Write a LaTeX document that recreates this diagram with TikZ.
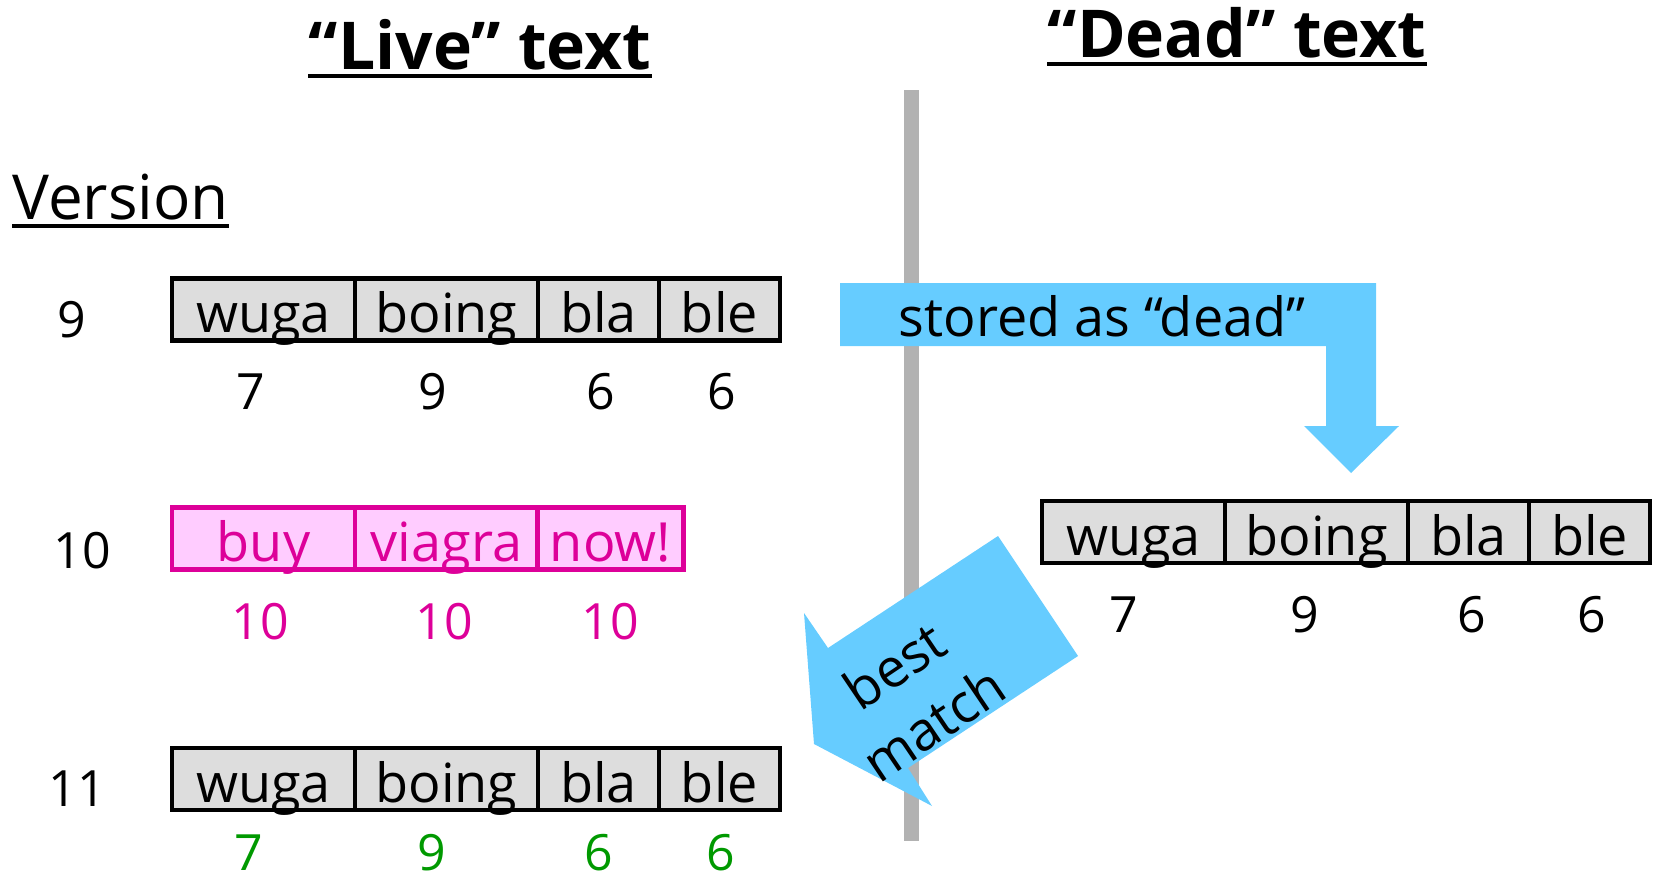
\documentclass[tikz,border=0pt]{standalone}
\usepackage{fontspec}
\setmainfont{Open Sans}

\definecolor{arrowblue}{HTML}{66CCFF}
\definecolor{cellgray}{HTML}{DDDDDD}
\definecolor{sepgray}{HTML}{B2B2B2}
\definecolor{spamline}{HTML}{DD0099}
\definecolor{spamfill}{HTML}{FFCCFF}
\definecolor{keptgreen}{HTML}{009900}

\newcommand\cellfont{\fontsize{27}{34}\selectfont}
\newcommand\countfont{\fontsize{25}{30}\selectfont}
\newcommand\headfont{\fontsize{33}{40}\selectfont\bfseries}
\newcommand\versionfont{\fontsize{31}{38}\selectfont}

\tikzset{
  cell/.style={draw=black, line width=2.2pt, fill=cellgray, inner sep=0pt,
    minimum height=31pt, text height=26pt, text depth=3pt, font=\cellfont},
  spamcell/.style={cell, draw=spamline, fill=spamfill, text=spamline},
  count/.style={inner sep=0pt, font=\countfont},
  heading/.style={inner sep=0pt, font=\headfont},
  underline/.style={line width=2pt}
}

\begin{document}
\begin{tikzpicture}[x=0.5pt, y=-0.5pt]
  \useasboundingbox (0,0) rectangle (1653,883);

  % Separator between live and dead text
  \fill[sepgray] (904,90) rectangle (919,841);

  % Headings
  \node[heading, anchor=base] (live) at (480,70) {“Live” text};
  \draw[underline] ([yshift=-3pt]live.base west) -- ([yshift=-3pt]live.base east);
  \node[heading, anchor=base] (dead) at (1237,58) {“Dead” text};
  \draw[underline] ([yshift=-3pt]dead.base west) -- ([yshift=-3pt]dead.base east);
  \node[inner sep=0pt, font=\versionfont, anchor=base west] (version) at (12,219) {Version};
  \draw[underline] ([yshift=-3.5pt]version.base west) -- ([yshift=-3.5pt]version.base east);

  % Version numbers
  \node[count] (v9) at (72,320) {9};
  \node[count] (v10) at (82,551) {10};
  \node[count] (v11) at (77,789) {11};

  % Version 9
  \foreach \t/\x/\w [count=\i] in {wuga/263.5/183, boing/446.5/183, bla/598.5/121, ble/719.5/121}
    \node[cell, minimum width=\w*0.5pt] (nine\i) at (\x,309.5) {\t};
  \foreach \n/\x [count=\i] in {7/251, 9/433, 6/601, 6/722}
    \node[count] (ninec\i) at (\x,392) {\n};

  % Version 10 (spam)
  \foreach \t/\x/\w [count=\i] in {buy/263.5/183, viagra/446.5/183, now!/610.5/146}
    \node[spamcell, minimum width=\w*0.5pt] (ten\i) at (\x,538.5) {\t};
  \foreach \x [count=\i] in {260, 444, 610}
    \node[count, text=spamline] (tenc\i) at (\x,622) {10};

  % Version 11 (restored)
  \foreach \t/\x/\w [count=\i] in {wuga/263.5/183, boing/446.5/183, bla/598.5/121, ble/719.5/121}
    \node[cell, minimum width=\w*0.5pt] (eleven\i) at (\x,779) {\t};
  \foreach \n/\x [count=\i] in {7/249, 9/432, 6/599, 6/721}
    \node[count, text=keptgreen] (elevenc\i) at (\x,853) {\n};

  % Dead text
  \foreach \t/\x/\w [count=\i] in {wuga/1133.5/183, boing/1316.5/183, bla/1468.5/121, ble/1589.5/121}
    \node[cell, minimum width=\w*0.5pt] (dead\i) at (\x,532) {\t};
  \foreach \n/\x [count=\i] in {7/1124, 9/1305, 6/1472, 6/1592}
    \node[count] (deadc\i) at (\x,615) {\n};

  % Arrow: stored as dead
  \fill[arrowblue] (840,283) -- (1376,283) -- (1376,426) -- (1399,426) -- (1351,473)
    -- (1304,426) -- (1326,426) -- (1326,346) -- (840,346) -- cycle;
  \node[inner sep=0pt, font=\cellfont] (stored) at (1102,316) {stored as “dead”};

  % Arrow: best match
  \fill[arrowblue] (998,536) -- (1078,656) -- (908,768) -- (932,806) -- (814,744)
    -- (804,613) -- (828,648) -- cycle;
  \node[inner sep=0pt, font=\fontsize{27}{35}\selectfont, rotate=34, align=center]
    (best) at (914,694) {best\\match};
\end{tikzpicture}
\end{document}
